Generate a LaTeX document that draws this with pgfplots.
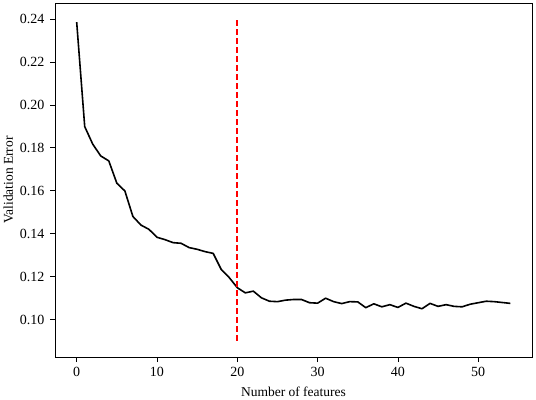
\documentclass[border=0pt]{standalone}
\usepackage{pgfplots}
\pgfplotsset{compat=1.18}
\usepackage{fontspec}
\setmainfont{Liberation Serif}
\usetikzlibrary{calc}

\definecolor{vline}{rgb}{1,0,0}

\pgfplotstableread{
n err
0 0.2386
1 0.1899
2 0.1817
3 0.1762
4 0.1739
5 0.1635
6 0.1599
7 0.1480
8 0.1440
9 0.1420
10 0.1383
11 0.1372
12 0.1358
13 0.1355
14 0.1335
15 0.1327
16 0.1316
17 0.1308
18 0.1233
19 0.1195
20 0.1148
21 0.1124
22 0.1132
23 0.1101
24 0.1085
25 0.1083
26 0.1090
27 0.1093
28 0.1093
29 0.1078
30 0.1076
31 0.1099
32 0.1083
33 0.1074
34 0.1083
35 0.1082
36 0.1055
37 0.1073
38 0.1059
39 0.1069
40 0.1056
41 0.1076
42 0.1061
43 0.1050
44 0.1075
45 0.1061
46 0.1069
47 0.1061
48 0.1059
49 0.1071
50 0.1078
51 0.1085
52 0.1083
53 0.1079
54 0.1075
}\errdata

\pgfplotstableread{
n err
20 0.09
20 0.24
}\cutdata

\begin{document}
\begin{tikzpicture}
\begin{axis}[
    scale only axis,
    width=477pt, height=354pt,
    xmin=-2.7, xmax=56.7,
    ymin=0.0825, ymax=0.2475,
    xtick={0,10,...,50},
    ytick={0.10,0.12,...,0.241},
    tick align=outside,
    xtick pos=bottom, ytick pos=left,
    major tick length=5pt,
    major tick style={black, line width=0.8pt},
    axis line style={line width=0.8pt},
    tick label style={font=\fontsize{14}{16}\selectfont},
    label style={font=\fontsize{13.5}{16}\selectfont},
    /pgf/number format/assume math mode=true,
    yticklabel style={xshift=-2pt, /pgf/number format/.cd, fixed, fixed zerofill, precision=2},
    xticklabel style={yshift=-2pt},
    xlabel={Number of features},
    ylabel={Validation Error},
    xlabel style={yshift=-3pt},
    ylabel style={yshift=0pt},
]
\addplot[draw=black, line width=1.6pt, line join=round] table[x=n, y=err] {\errdata};
\addplot[draw=vline, line width=1.6pt, dash pattern=on 6pt off 3pt] table[x=n, y=err] {\cutdata};
\end{axis}
\pgfresetboundingbox
\path[use as bounding box] ($(current axis.south west)+(-55pt,-42pt)$) rectangle ($(current axis.north east)+(4pt,3pt)$);
\end{tikzpicture}
\end{document}
